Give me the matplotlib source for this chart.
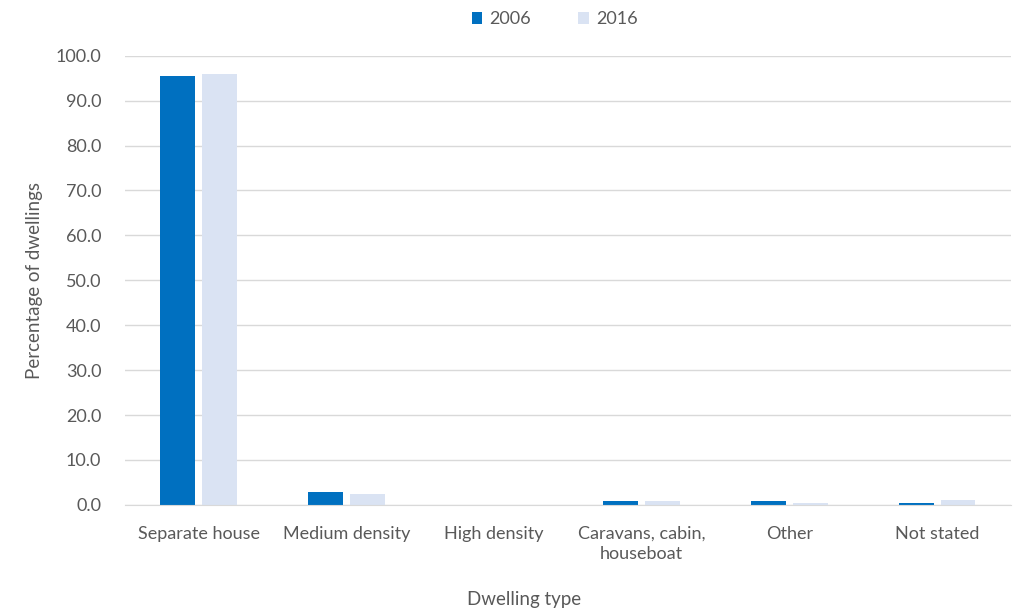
import matplotlib
matplotlib.use("Agg")
import matplotlib.pyplot as plt
import numpy as np

categories = ["Separate house", "Medium density", "High density",
              "Caravans, cabin,\nhouseboat", "Other", "Not stated"]
years = ["2006", "2016"]
vals_2006 = [95.5, 2.9, 0.0, 0.9, 0.9, 0.5]
vals_2016 = [96.0, 2.4, 0.0, 0.8, 0.4, 1.2]
colors = ["#0070C0", "#DAE3F3"]
txt = "#595959"

plt.rcParams['font.family'] = ['Lato', 'DejaVu Sans']

fig = plt.figure(figsize=(10.16, 6.12), dpi=100)
ax = fig.add_axes([0.123, 0.175, 0.872, 0.734])

x = np.arange(len(categories))
w = 0.236
off = 0.142
ax.bar(x - off, vals_2006, w, color=colors[0], label=years[0], zorder=3)
ax.bar(x + off, vals_2016, w, color=colors[1], label=years[1], zorder=3)

ax.set_ylim(0, 100)
ax.set_xlim(-0.5, len(categories) - 0.5)
ax.set_yticks(np.arange(0, 101, 10))
ax.set_yticklabels([f"{v:.1f}" for v in np.arange(0, 101, 10)])
ax.set_xticks(x)
ax.set_xticklabels(categories, linespacing=1.3)
ax.yaxis.grid(True, color="#D9D9D9", linewidth=1, zorder=0)
ax.tick_params(axis="both", length=0, labelsize=13, colors=txt)
ax.tick_params(axis="y", pad=17)
ax.tick_params(axis="x", pad=15)
for s in ["top", "right", "left"]:
    ax.spines[s].set_visible(False)
ax.spines["bottom"].set_color("#D9D9D9")
ax.spines["bottom"].set_zorder(4)

fig.text(0.516, 1 - 600 / 612, "Dwelling type", fontsize=13.5, color=txt,
         ha="center", va="center")
ax.set_ylabel("Percentage of dwellings", fontsize=13.5, color=txt, labelpad=9)

fig.legend(loc="upper center", bbox_to_anchor=(0.546, 1.008), ncol=2, frameon=False,
           fontsize=13, labelcolor=txt, handlelength=0.6, handleheight=0.6,
           columnspacing=2.6, handletextpad=0.4)

fig.savefig("out.png", dpi=100)
